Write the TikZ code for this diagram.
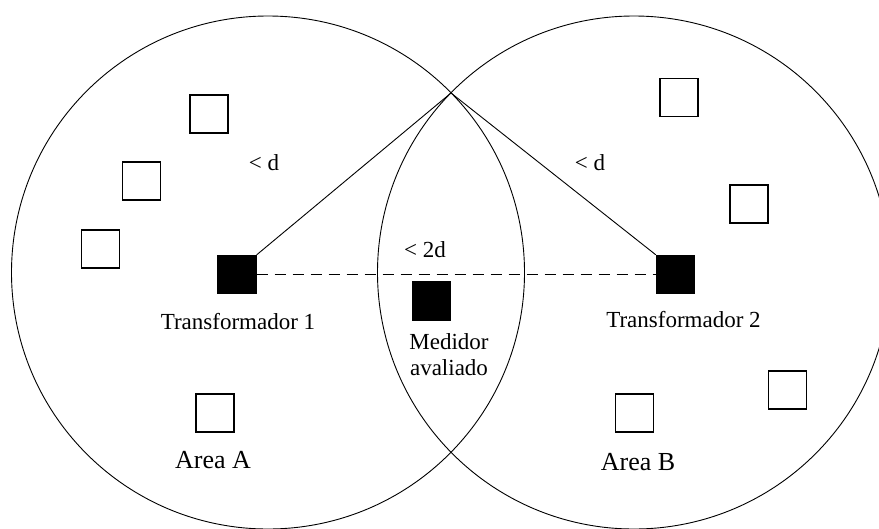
\documentclass[tikz,border=0pt]{standalone}
\usepackage{fontspec}
\setmainfont{Liberation Serif}
\usetikzlibrary{shapes}

\begin{document}
\begin{tikzpicture}[x=1pt,y=-1pt]
					\tikzstyle{BOX} = [draw=black, line width=1.3pt, minimum size=38pt, inner sep=0pt]
					\tikzstyle{meter} = [BOX, fill=white]
					\tikzstyle{trafo} = [BOX, fill=black]
					\tikzstyle{LABEL} = [inner sep=0pt, align=center, font=\fontsize{23}{26}\selectfont]
					\tikzstyle{AREA} = [inner sep=0pt, font=\fontsize{26}{28}\selectfont]
					\tikzstyle{zone} = [line width=0.9pt]
					
					\useasboundingbox (0,0) rectangle (879,528);
					\draw[zone] (268,272.5) circle (256.5pt);
					\draw[zone] (634,272.5) circle (256.5pt);
					\coordinate (TOP) at (451,93);
					
					\node[meter] (MA1) at (209,114) {};
					\node[meter] (MA2) at (141.5,181) {};
					\node[meter] (MA3) at (100.5,249) {};
					\node[meter] (MA4) at (215,413) {};
					\node[meter] (MB1) at (679,97.5) {};
					\node[meter] (MB2) at (749,204) {};
					\node[meter] (MB3) at (787.5,390) {};
					\node[meter] (MB4) at (634.5,413) {};
					
					\node[trafo] (T1) at (237,274.5) {};
					\node[trafo] (T2) at (675.5,274.5) {};
					\node[trafo] (MED) at (431.5,301) {};
					
					\draw[line width=0.9pt] (T1.north east) -- (TOP);
					\draw[line width=0.9pt] (TOP) -- (T2.north west);
					\draw[line width=1.3pt, dash pattern=on 11pt off 7pt] (T1.east) -- (T2.west);
					
					\node[LABEL] (D1) at (264,163) {< d};
					\node[LABEL] (D2) at (590,163) {< d};
					\node[LABEL] (D3) at (425,250) {< 2d};
					\node[LABEL] (LT1) at (238,322) {Transformador 1};
					\node[LABEL] (LT2) at (683.5,320) {Transformador 2};
					\node[LABEL] (LMED) at (449,355) {Medidor\\avaliado};
					\node[AREA] (AA) at (213,460) {Area A};
					\node[AREA] (AB) at (638,462) {Area B};
					%\draw[dashed] (MED) -- (TOP);
				\end{tikzpicture}
\end{document}
